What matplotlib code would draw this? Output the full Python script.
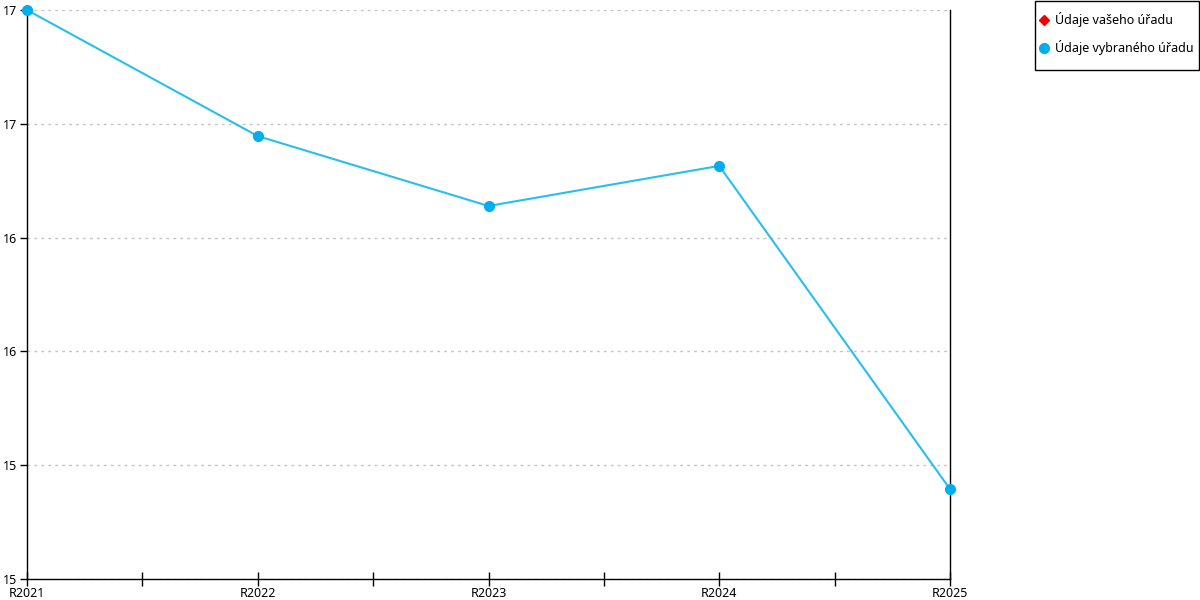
import math
import matplotlib
matplotlib.use("Agg")
import matplotlib.pyplot as plt
from matplotlib.ticker import FixedLocator, FuncFormatter
from matplotlib.lines import Line2D
from matplotlib.patches import Rectangle

categories = ["R2021", "R2022", "R2023", "R2024", "R2025"]
selected_office = [17.0, 16.446, 16.139, 16.315, 14.895]
y_ticks = [14.5, 15.0, 15.5, 16.0, 16.5, 17.0]
legend_labels = ["Údaje vašeho úřadu", "Údaje vybraného úřadu"]

plt.rcParams['font.family'] = ['Noto Sans', 'DejaVu Sans']

W, H = 1200, 600
fig = plt.figure(figsize=(12, 6), dpi=100)
L, R, T, B = 27, 950, 10, 579
ax = fig.add_axes([L / W, (H - B) / H, (R - L) / W, (B - T) / H])

x = list(range(len(categories)))
ax.plot(x, selected_office, color="#29BEF0", lw=1.5, marker="o", ms=7,
        markerfacecolor="#00AEEF", markeredgecolor="#00AEEF", zorder=3, clip_on=False)

ax.set_xlim(0, len(categories) - 1)
ax.set_ylim(14.5, 17.0)
ax.yaxis.set_major_locator(FixedLocator(y_ticks))
ax.yaxis.set_major_formatter(FuncFormatter(lambda v, p: str(int(math.floor(v + 0.5)))))
ax.set_xticks(x)
ax.set_xticklabels(categories)
ax.set_xticks([i + 0.5 for i in x[:-1]], minor=True)

ax.grid(axis="y", color="#c4c4c4", linestyle=(0, (2, 3)), lw=1)
ax.spines["top"].set_visible(False)
for s in ["left", "right", "bottom"]:
    ax.spines[s].set_color("black")
    ax.spines[s].set_linewidth(1)

ax.tick_params(axis="x", which="major", direction="inout", length=10, width=1, labelsize=9, pad=1)
ax.tick_params(axis="x", which="minor", direction="inout", length=10, width=1)
ax.tick_params(axis="y", which="major", direction="out", length=5, width=1, labelsize=9, pad=2)

# legend frame
fig.add_artist(Rectangle((1034.5 / W, 1 - 69.5 / H), 164.5 / W, 69 / H,
                         transform=fig.transFigure, fill=False, edgecolor="black", lw=1))

handles = [
    Line2D([], [], ls="none", marker="D", ms=5, color="#EE0000"),
    Line2D([], [], ls="none", marker="o", ms=7, color="#00AEEF"),
]
leg = fig.legend(handles, legend_labels, loc="upper left",
                 bbox_to_anchor=(1039 / W, 1 - 12 / H), frameon=False,
                 fontsize=9, handletextpad=0.48, handlelength=0.8,
                 borderpad=0, labelspacing=1.06, borderaxespad=0)

fig.savefig("out.png", dpi=100)
